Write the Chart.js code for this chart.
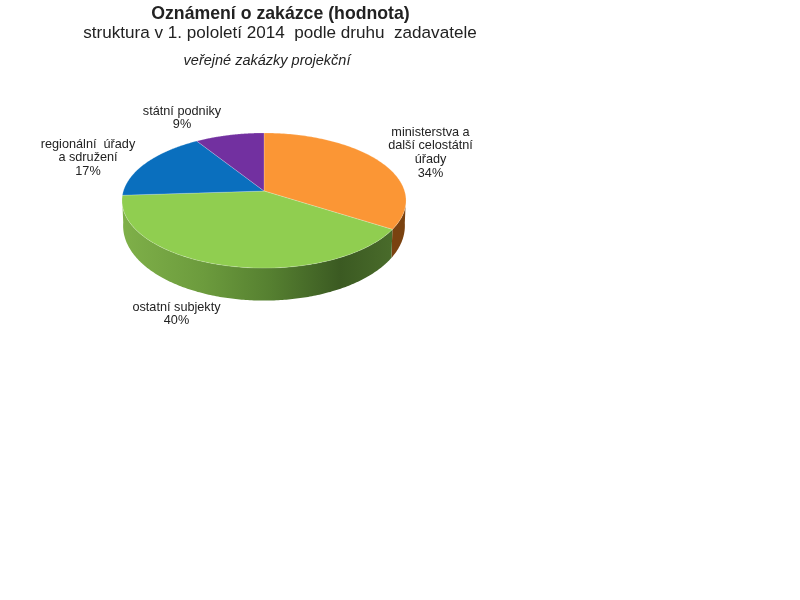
<!DOCTYPE html>
<html>
<head>
<meta charset="utf-8">
<script src="https://cdn.jsdelivr.net/npm/chart.js@4"></script>
<style>html,body{margin:0;padding:0;background:#fff}#box{width:800px;height:600px}canvas{display:block}</style>
</head>
<body>
<div id="box"><canvas id="c" width="800" height="600"></canvas></div>
<script>
const categories = ['ministerstva a\ndalší celostátní\núřady', 'ostatní subjekty', 'regionální  úřady\na sdružení', 'státní podniky'];
const values = [34, 40, 17, 9];
const topColors = ['#FB9635', '#90CE50', '#0A6FBE', '#7230A0'];
const titleText = 'Oznámení o zakázce (hodnota)';
const subtitleText = 'struktura v 1. pololetí 2014  podle druhu  zadavatele';
const noteText = 'veřejné zakázky projekční';

/* view settings for the tilted disc */
const SQUASH = 0.471, PERSP = 0.141;
const labelAnchors = [[430.5, 132], [176.5, 307], [88, 144], [182, 111]];
const wallStops = [
  [[0, '#9A5313'], [1, '#7A4210']],
  [[0, '#7FB049'], [0.3, '#6C9B3D'], [0.55, '#557F30'], [0.8, '#3B5A22'], [1, '#4A6C2B']],
  [[0, '#06508A'], [1, '#06508A']],
  [[0, '#4F2070'], [1, '#4F2070']]
];

function project(el, a, depth) {
  const u = Math.cos(a), v = Math.sin(a), w = 1 - PERSP * v, R = el.outerRadius;
  const d = depth ? (24 + 8.5 * v) : 0;
  return [el.x + R * u / w * (depth ? 0.992 : 1), el.y + R * SQUASH * v / w + d];
}

/* disc faces: the library still calls draw() on each arc with its own angles */
Chart.ArcElement.prototype.draw = function (ctx) {
  const steps = 120, s = this.startAngle, e = this.endAngle;
  ctx.save();
  ctx.beginPath();
  ctx.moveTo(this.x, this.y);
  for (let i = 0; i <= steps; i++) {
    const p = project(this, s + (e - s) * i / steps, false);
    ctx.lineTo(p[0], p[1]);
  }
  ctx.closePath();
  ctx.fillStyle = this.options.backgroundColor;
  ctx.fill();
  ctx.lineWidth = this.options.borderWidth;
  ctx.strokeStyle = this.options.borderColor;
  ctx.stroke();
  ctx.restore();
};

const walls = {
  id: 'walls',
  beforeDatasetsDraw(chart) {
    const ctx = chart.ctx;
    chart.getDatasetMeta(0).data.forEach((el, idx) => {
      const pts = [];
      const s = el.startAngle, e = el.endAngle;
      for (let i = 0; i <= 200; i++) {
        const a = s + (e - s) * i / 200;
        if (Math.sin(a) >= 0.1) pts.push(a);
      }
      if (pts.length < 2) return;
      const g = ctx.createLinearGradient(el.x - el.outerRadius * 1.01, 0, el.x + el.outerRadius * 0.93, 0);
      wallStops[idx].forEach(st => g.addColorStop(st[0], st[1]));
      ctx.beginPath();
      pts.forEach((a, i) => {
        const p = project(el, a, false);
        i ? ctx.lineTo(p[0], p[1]) : ctx.moveTo(p[0], p[1]);
      });
      pts.slice().reverse().forEach(a => {
        const p = project(el, a, true);
        ctx.lineTo(p[0], p[1]);
      });
      ctx.closePath();
      ctx.fillStyle = g;
      ctx.fill();
    });
  }
};

const texts = {
  id: 'texts',
  afterDraw(chart) {
    const ctx = chart.ctx;
    ctx.save();
    ctx.textAlign = 'center';
    ctx.textBaseline = 'middle';
    ctx.fillStyle = '#222';
    ctx.font = 'bold 17.7px "Liberation Sans"';
    ctx.fillText(titleText, 280.5, 14);
    ctx.font = '17.1px "Liberation Sans"';
    ctx.fillText(subtitleText, 280, 33);
    ctx.font = 'italic 14.5px "Liberation Sans"';
    ctx.fillText(noteText, 267, 61);
    ctx.font = '12.7px "Liberation Sans"';
    categories.forEach((c, i) => {
      const lines = c.split('\n').concat(values[i] + '%');
      lines.forEach((t, j) => ctx.fillText(t, labelAnchors[i][0], labelAnchors[i][1] + j * 13.7));
    });
    ctx.restore();
  }
};

new Chart(document.getElementById('c'), {
  type: 'pie',
  data: {
    labels: categories,
    datasets: [{
      data: values,
      backgroundColor: topColors,
      borderColor: 'rgba(255,255,255,0.35)',
      borderWidth: 0.6,
      radius: 140.6
    }]
  },
  options: {
    responsive: false,
    animation: false,
    layout: { padding: { left: 0, top: 0, right: 272, bottom: 218 } },
    plugins: { legend: { display: false }, tooltip: { enabled: false }, title: { display: false } }
  },
  plugins: [walls, texts]
});
</script>
</body>
</html>
